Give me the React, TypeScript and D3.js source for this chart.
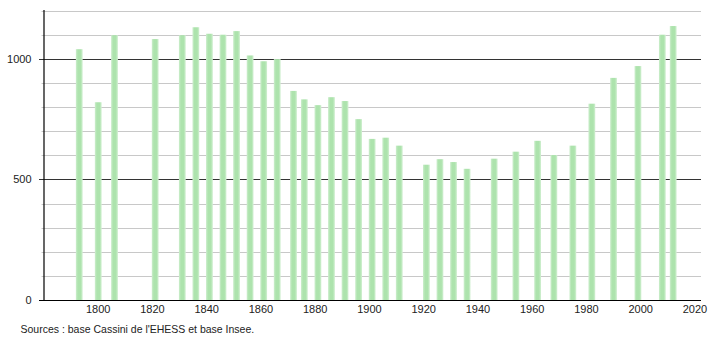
import React from "react";
import * as d3 from "d3";

const years = [1793, 1800, 1806, 1821, 1831, 1836, 1841, 1846, 1851, 1856, 1861, 1866, 1872, 1876, 1881, 1886, 1891, 1896, 1901, 1906, 1911, 1921, 1926, 1931, 1936, 1946, 1954, 1962, 1968, 1975, 1982, 1990, 1999, 2008, 2012];
const population = [1040, 820, 1098, 1082, 1098, 1131, 1104, 1100, 1115, 1014, 990, 999, 867, 832, 808, 841, 825, 750, 668, 673, 640, 561, 584, 572, 544, 586, 615, 660, 601, 640, 814, 921, 970, 1100, 1136];
const xTicks = [1800, 1820, 1840, 1860, 1880, 1900, 1920, 1940, 1960, 1980, 2000, 2020];
const yLabelTicks = [0, 500, 1000];
const yGridTicks = [100, 200, 300, 400, 600, 700, 800, 900, 1100, 1200];
const sourceText = "Sources : base Cassini de l'EHESS et base Insee.";

export default function App() {
  const W = 710, H = 340;
  const x = d3.scaleLinear().domain([1780, 2020]).range([44, 694.9]);
  const y = d3.scaleLinear().domain([0, 1200]).range([300, 10.6]);
  const right = 701;
  const barW = 6.8;
  const font = "'Liberation Sans', Arial, sans-serif";

  return (
    <svg width={W} height={H} style={{ position: "fixed", left: 0, top: 0, background: "#fff" }}>
      <defs>
        <linearGradient id="barGrad" x1="0" x2="1" y1="0" y2="0">
          <stop offset="0" stopColor="#cdeecd" />
          <stop offset="0.3" stopColor="#ade3ad" />
          <stop offset="0.7" stopColor="#ade3ad" />
          <stop offset="1" stopColor="#d3f0d3" />
        </linearGradient>
      </defs>
      <rect x={0} y={0} width={W} height={H} fill="#fff" />
      {yGridTicks.map((t) => (
        <line key={"g" + t} x1={41.5} x2={right} y1={Math.round(y(t)) + 0.5} y2={Math.round(y(t)) + 0.5} stroke="#c8c8c8" strokeWidth={1} />
      ))}
      {yLabelTicks.filter((t) => t > 0).map((t) => (
        <line key={"m" + t} x1={39} x2={right} y1={Math.round(y(t)) + 0.5} y2={Math.round(y(t)) + 0.5} stroke="#333" strokeWidth={1} />
      ))}
      {years.map((yr, i) => (
        <rect key={yr} x={x(yr) - barW / 2} y={y(population[i])} width={barW} height={y(0) - y(population[i])} fill="url(#barGrad)" />
      ))}
      <line x1={44} x2={44} y1={10} y2={300} stroke="#000" strokeWidth={1.2} />
      <line x1={39} x2={right} y1={300.5} y2={300.5} stroke="#000" strokeWidth={1.2} />
      {yLabelTicks.map((t) => (
        <text key={"yl" + t} x={31.5} y={y(t) + 4} textAnchor="end" fontFamily={font} fontSize={11} fill="#222">
          {t}
        </text>
      ))}
      {xTicks.map((t) => (
        <text key={"xl" + t} x={x(t)} y={312.5} textAnchor="middle" fontFamily={font} fontSize={11} fill="#222">
          {t}
        </text>
      ))}
      <text x={20.5} y={333} fontFamily={font} fontSize={10.5} fill="#222">
        {sourceText}
      </text>
    </svg>
  );
}
